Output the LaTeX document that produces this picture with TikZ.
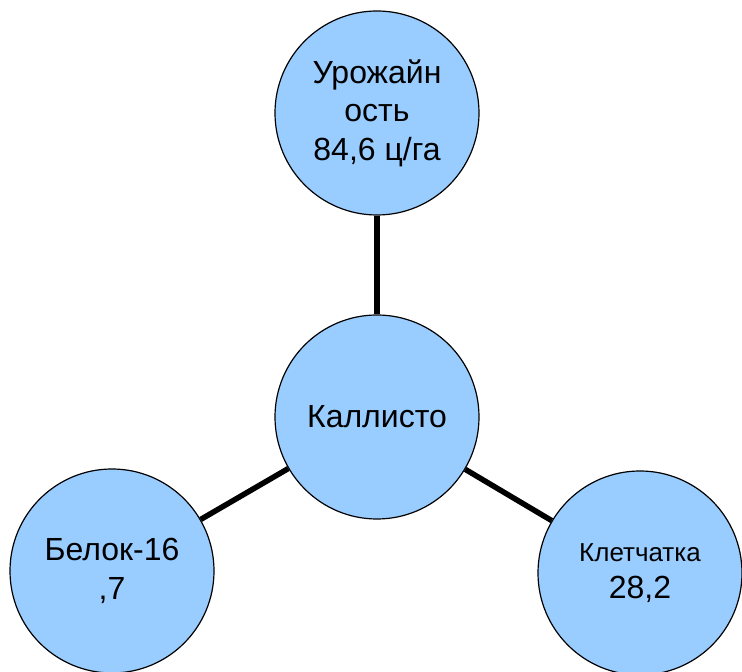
\documentclass[tikz,border=0pt]{standalone}
\usepackage{fontspec}
\setmainfont{Liberation Sans}
\usepackage{tikz}
\definecolor{bubble}{HTML}{99CCFF}

\begin{document}
\begin{tikzpicture}[x=1pt,y=1pt,
    bub/.style={circle,draw,line width=1.2pt,fill=bubble,minimum size=204pt,inner sep=0pt,
      align=center,font=\fontsize{32}{38.5}\selectfont},
    link/.style={line width=5.5pt}]
      \useasboundingbox (0,0) rectangle (742,672);
      \node[bub](z) at (377,255){Каллисто};
      \node[bub](yield) at (377,559){Урожайн\\ость\\84,6 ц/га};
      \node[bub](prot) at (112,101){Белок-16\\,7};
      \node[bub,font=\fontsize{26}{37}\selectfont](fib) at (640,99){Клетчатка\\\fontsize{32}{37}\selectfont 28,2};
      \draw[link] (z) -- (yield);
      \draw[link] (z) -- (prot);
      \draw[link] (z) -- (fib);
    \end{tikzpicture}
\end{document}
